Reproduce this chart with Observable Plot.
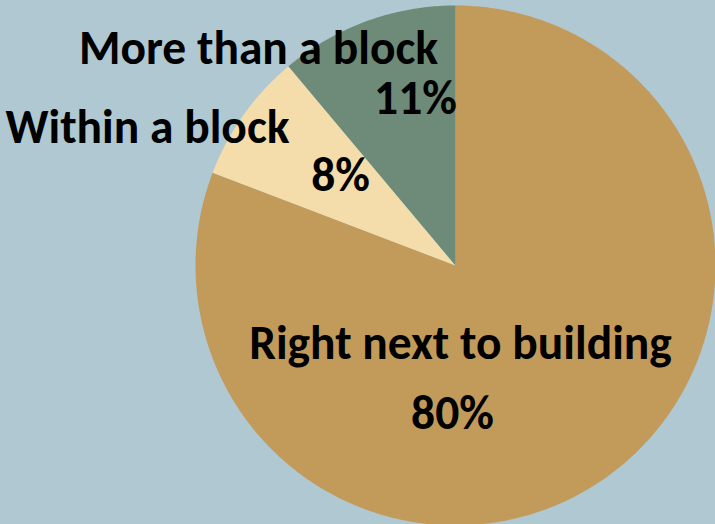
<!DOCTYPE html>
<html>
<head>
<meta charset="utf-8">
<script src="https://cdn.jsdelivr.net/npm/d3@7"></script>
<script src="https://cdn.jsdelivr.net/npm/@observablehq/plot@0.6"></script>
<style>
  html, body { margin: 0; padding: 0; background: #AFC8D1; }
  #chart { width: 715px; height: 524px; overflow: hidden; }
</style>
</head>
<body>
<div id="chart"></div>
<script>
// ---- data ----
const categories = ["Right next to building", "Within a block", "More than a block"];
const values = [80, 8, 11];
const valueLabels = ["80%", "8%", "11%"];
const colors = ["#C29B5B", "#F5DDAB", "#6E8B79"];

// ---- layout ----
const W = 715, H = 524;
const cx = 455, cy = 265, R = 260;
// label anchor (baseline centre) for name and value, per slice
const namePos = [[460, 358], [147, 142], [258, 63]];
const valuePos = [[452, 428], [340, 190], [415, 113]];
const fontSize = 47.5;

const pie = d3.pie().sort(null).value(d => d)(values);

// polygon points for each slice (angles clockwise from 12 o'clock)
const pts = [];
pie.forEach((p, i) => {
  const steps = Math.max(8, Math.ceil((p.endAngle - p.startAngle) / 0.01));
  pts.push({slice: categories[i], x: cx, y: cy});
  for (let k = 0; k <= steps; k++) {
    const a = p.startAngle + (p.endAngle - p.startAngle) * k / steps;
    pts.push({slice: categories[i], x: cx + R * Math.sin(a), y: cy - R * Math.cos(a)});
  }
  pts.push({slice: categories[i], x: cx, y: cy});
});

const labels = [];
categories.forEach((c, i) => {
  labels.push({text: c, x: namePos[i][0], y: namePos[i][1]});
  labels.push({text: valueLabels[i], x: valuePos[i][0], y: valuePos[i][1]});
});

const chart = Plot.plot({
  width: W,
  height: H,
  margin: 0,
  style: {background: "#AFC8D1", fontFamily: "Carlito, Lato, sans-serif", overflow: "hidden"},
  x: {domain: [0, W], range: [0, W], axis: null},
  y: {domain: [0, H], range: [0, H], axis: null},
  color: {domain: categories, range: colors},
  marks: [
    Plot.line(pts, {x: "x", y: "y", z: "slice", fill: "slice", stroke: null}),
    Plot.text(labels, {
      x: "x", y: "y", text: "text",
      fontSize: fontSize, fontWeight: "bold", fill: "black",
      textAnchor: "middle", lineAnchor: "bottom"
    })
  ]
});
document.getElementById("chart").appendChild(chart);
</script>
</body>
</html>
